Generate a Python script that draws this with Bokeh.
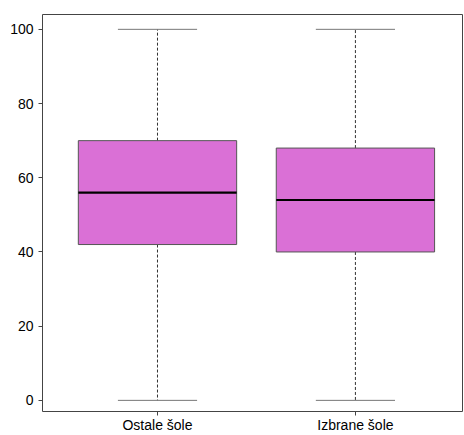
from bokeh.plotting import figure
from bokeh.models import Range1d, FixedTicker
from bokeh.embed import file_html
from bokeh.resources import INLINE

categories = ["Ostale šole", "Izbrane šole"]
lower = [0, 0]
q1 = [42, 40]
median = [56, 54]
q3 = [70, 68]
upper = [100, 100]
y_ticks = [0, 20, 40, 60, 80, 100]

xs = [i + 1 for i in range(len(categories))]
box_w = 0.8
cap_w = 0.4

p = figure(width=464, height=435, output_backend="svg", toolbar_location=None,
           x_range=Range1d(0.419, 2.541), y_range=Range1d(-3.0, 104.0),
           min_border_left=42, min_border_right=2, min_border_top=14, min_border_bottom=0)

# whiskers
p.segment(x0=xs, y0=q3, x1=xs, y1=upper, line_color="#333333", line_width=1, line_dash="3 2")
p.segment(x0=xs, y0=q1, x1=xs, y1=lower, line_color="#333333", line_width=1, line_dash="3 2")
# caps
p.segment(x0=[x - cap_w / 2 for x in xs], y0=upper, x1=[x + cap_w / 2 for x in xs], y1=upper,
          line_color="#777777", line_width=1)
p.segment(x0=[x - cap_w / 2 for x in xs], y0=lower, x1=[x + cap_w / 2 for x in xs], y1=lower,
          line_color="#777777", line_width=1)
# boxes
p.vbar(x=xs, width=box_w, bottom=q1, top=q3, fill_color="#DA70D6", line_color="#555555", line_width=1)
# medians
p.segment(x0=[x - box_w / 2 for x in xs], y0=median, x1=[x + box_w / 2 for x in xs], y1=median,
          line_color="#000000", line_width=2.2)

p.grid.visible = False
p.outline_line_color = "#444444"
p.outline_line_width = 1

for ax in (p.xaxis[0], p.yaxis[0]):
    ax.axis_line_color = None
    ax.major_tick_line_color = "#444444"
    ax.major_tick_in = 0
    ax.major_tick_out = 4
    ax.minor_tick_line_color = None
    ax.major_label_text_font = "Liberation Sans"
    ax.major_label_text_font_size = "14px"
    ax.major_label_text_color = "#000000"

p.xaxis.ticker = FixedTicker(ticks=xs)
p.xaxis.major_label_overrides = {x: c for x, c in zip(xs, categories)}
p.xaxis.major_label_standoff = 1
p.yaxis.ticker = FixedTicker(ticks=y_ticks)
p.yaxis.major_label_standoff = 5

open("out.html", "w").write(file_html(p, INLINE))
